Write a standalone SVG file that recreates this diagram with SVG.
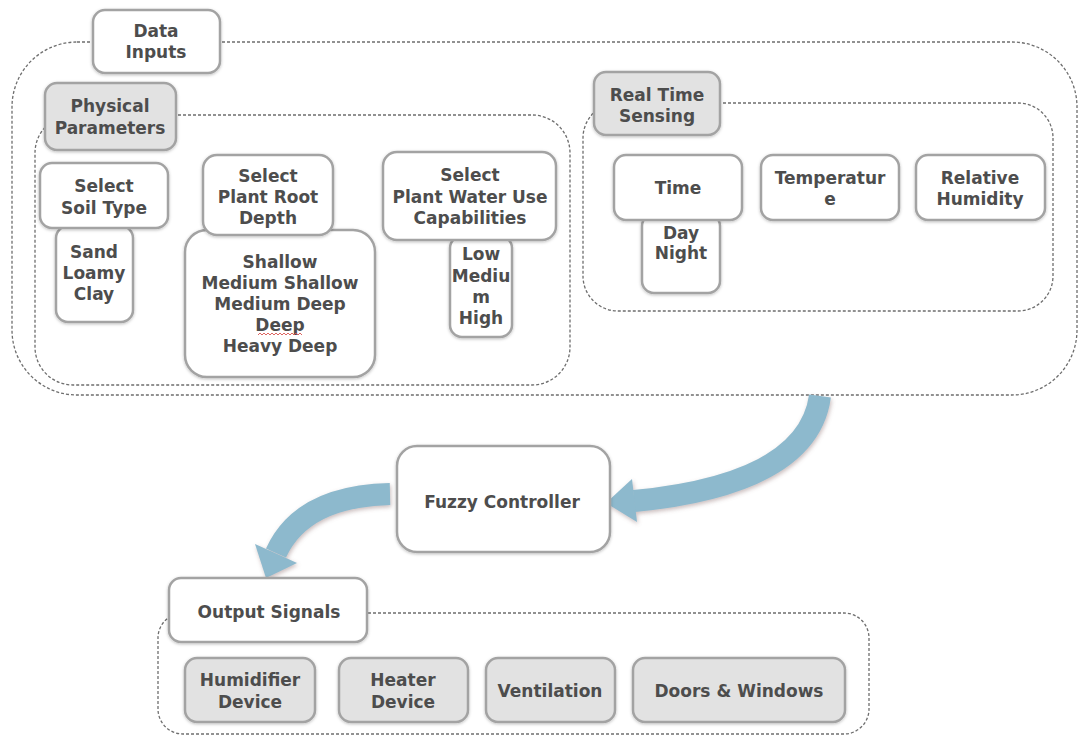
<svg xmlns="http://www.w3.org/2000/svg" width="1078" height="738" viewBox="0 0 1078 738">
<defs>
<style>
.ctr{fill:none;stroke:#6e6e6e;stroke-width:1.3;stroke-dasharray:3 2;}
.box{fill:#ffffff;stroke:#a3a3a3;stroke-width:2.5;filter:url(#sh);}
.gbox{fill:#e2e2e2;stroke:#a3a3a3;stroke-width:2.5;filter:url(#sh);}
.t{font-family:"DejaVu Sans",Verdana,sans-serif;font-weight:bold;font-size:17px;fill:#4d4d4d;text-anchor:middle;}
.arr{fill:none;stroke:#8db9cd;stroke-width:22;}
.ahd{fill:#8db9cd;}
</style>
<filter id="sh" x="-10%" y="-10%" width="120%" height="125%">
<feDropShadow dx="0" dy="1" stdDeviation="1.5" flood-color="#000" flood-opacity="0.25"/>
</filter>
<filter id="ash" x="-20%" y="-20%" width="140%" height="140%">
<feDropShadow dx="1" dy="2" stdDeviation="2" flood-color="#8a6a6a" flood-opacity="0.45"/>
</filter>
</defs>

<g id="containers">
<rect class="ctr" x="12" y="42" width="1065" height="353" rx="65"/>
<rect class="ctr" x="35" y="115" width="535" height="270" rx="38"/>
<rect class="ctr" x="583" y="103" width="470" height="208" rx="35"/>
<rect class="ctr" x="158" y="613" width="711" height="121" rx="25"/>
</g>

<g id="connectors" filter="url(#ash)">
<path class="arr" d="M820,396 Q808,484 634,501"/>
<polygon class="ahd" points="606,503 632,479 637,522"/>
<path class="arr" d="M390,494 Q302,496 276,553"/>
<polygon class="ahd" points="266,578 255,544 297,563"/>
</g>

<g id="data-inputs">
<rect class="box" x="93" y="10" width="127" height="63" rx="12"/>
<text class="t" x="156" y="37">Data</text>
<text class="t" x="156" y="58">Inputs</text>
</g>

<g id="physical-parameters">
<rect class="gbox" x="45" y="83" width="131" height="67" rx="12"/>
<text class="t" x="110" y="112">Physical</text>
<text class="t" x="110" y="134">Parameters</text>
</g>

<g id="sand-loamy-clay">
<rect class="box" x="56" y="226" width="77" height="96" rx="12"/>
<text class="t" x="94" y="258">Sand</text>
<text class="t" x="94" y="279">Loamy</text>
<text class="t" x="94" y="300">Clay</text>
</g>
<g id="select-soil-type">
<rect class="box" x="40" y="163" width="128" height="65" rx="12"/>
<text class="t" x="104" y="192">Select</text>
<text class="t" x="104" y="214">Soil Type</text>
</g>

<g id="root-depth-values">
<rect class="box" x="185" y="230" width="190" height="147" rx="22"/>
<text class="t" x="280" y="268">Shallow</text>
<text class="t" x="280" y="289">Medium Shallow</text>
<text class="t" x="280" y="310">Medium Deep</text>
<text class="t" x="280" y="331">Deep</text>
<path d="M258,335 l2,-2 l2,2 l2,-2 l2,2 l2,-2 l2,2 l2,-2 l2,2 l2,-2 l2,2 l2,-2 l2,2 l2,-2 l2,2 l2,-2 l2,2 l2,-2 l2,2 l2,-2 l2,2 l2,-2 l2,2" fill="none" stroke="#d9534f" stroke-width="0.9"/>
<text class="t" x="280" y="352">Heavy Deep</text>
</g>
<g id="select-root-depth">
<rect class="box" x="203" y="155" width="130" height="80" rx="14"/>
<text class="t" x="268" y="182">Select</text>
<text class="t" x="268" y="203">Plant Root</text>
<text class="t" x="268" y="224">Depth</text>
</g>

<g id="water-use-values">
<rect class="box" x="450" y="236" width="62" height="101" rx="12"/>
<text class="t" x="481" y="260">Low</text>
<text class="t" x="481" y="282">Mediu</text>
<text class="t" x="481" y="303">m</text>
<text class="t" x="481" y="324">High</text>
</g>
<g id="select-water-use">
<rect class="box" x="383" y="152" width="173" height="88" rx="14"/>
<text class="t" x="470" y="181">Select</text>
<text class="t" x="470" y="203">Plant Water Use</text>
<text class="t" x="470" y="224">Capabilities</text>
</g>

<g id="real-time-sensing">
<rect class="gbox" x="594" y="72" width="126" height="63" rx="12"/>
<text class="t" x="657" y="101">Real Time</text>
<text class="t" x="657" y="122">Sensing</text>
</g>

<g id="day-night">
<rect class="box" x="642" y="214" width="78" height="79" rx="12"/>
<text class="t" x="681" y="239">Day</text>
<text class="t" x="681" y="259">Night</text>
</g>
<g id="time">
<rect class="box" x="614" y="155" width="128" height="65" rx="12"/>
<text class="t" x="678" y="194">Time</text>
</g>
<g id="temperature">
<rect class="box" x="761" y="155" width="138" height="65" rx="12"/>
<text class="t" x="830" y="184">Temperatur</text>
<text class="t" x="830" y="205">e</text>
</g>
<g id="relative-humidity">
<rect class="box" x="916" y="155" width="129" height="65" rx="12"/>
<text class="t" x="980" y="184">Relative</text>
<text class="t" x="980" y="205">Humidity</text>
</g>

<g id="fuzzy-controller">
<rect class="box" x="397" y="446" width="213" height="106" rx="20"/>
<text class="t" x="502" y="508">Fuzzy Controller</text>
</g>

<g id="output-signals">
<rect class="box" x="169" y="578" width="198" height="64" rx="12"/>
<text class="t" x="269" y="618">Output Signals</text>
</g>

<g id="humidifier">
<rect class="gbox" x="185" y="658" width="130" height="64" rx="12"/>
<text class="t" x="250" y="686">Humidifier</text>
<text class="t" x="250" y="708">Device</text>
</g>
<g id="heater">
<rect class="gbox" x="339" y="658" width="129" height="64" rx="12"/>
<text class="t" x="403" y="686">Heater</text>
<text class="t" x="403" y="708">Device</text>
</g>
<g id="ventilation">
<rect class="gbox" x="486" y="658" width="129" height="64" rx="12"/>
<text class="t" x="550" y="697">Ventilation</text>
</g>
<g id="doors-windows">
<rect class="gbox" x="633" y="658" width="212" height="64" rx="12"/>
<text class="t" x="739" y="697">Doors &amp; Windows</text>
</g>
</svg>
